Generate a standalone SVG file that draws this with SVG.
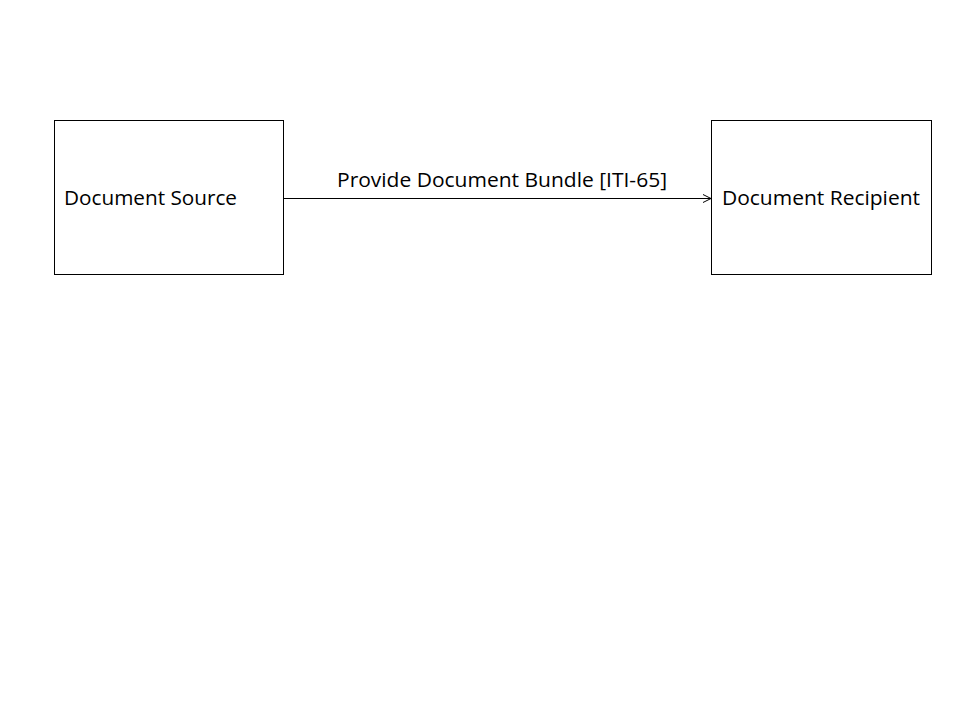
<svg xmlns="http://www.w3.org/2000/svg" width="960" height="720" viewBox="0 0 960 720">
<style>
.box{fill:#fff;stroke:#000;stroke-width:1}
.t{font-family:"Open Sans","Liberation Sans",sans-serif;font-size:20px;fill:#000}
.c{stroke:#000;stroke-width:1;fill:none}
</style>
<defs>
<marker id="arr" markerWidth="10" markerHeight="10" refX="9" refY="5" orient="auto" markerUnits="userSpaceOnUse">
<path d="M1,1 L9,5 L1,9" fill="none" stroke="#000" stroke-width="1"/>
</marker>
</defs>
<rect width="960" height="720" fill="#fff"/>
<g id="source">
<rect class="box" x="54.5" y="120.5" width="229" height="154"/>
<text class="t" x="64" y="205" textLength="173" lengthAdjust="spacingAndGlyphs">Document Source</text>
</g>
<g id="recipient">
<rect class="box" x="711.5" y="120.5" width="220" height="154"/>
<text class="t" x="722" y="205" textLength="198" lengthAdjust="spacingAndGlyphs">Document Recipient</text>
</g>
<g id="connectors">
<line class="c" x1="284" y1="198.5" x2="711" y2="198.5" marker-end="url(#arr)"/>
<text class="t" x="337" y="187" textLength="330" lengthAdjust="spacingAndGlyphs">Provide Document Bundle [ITI-65]</text>
</g>
</svg>
